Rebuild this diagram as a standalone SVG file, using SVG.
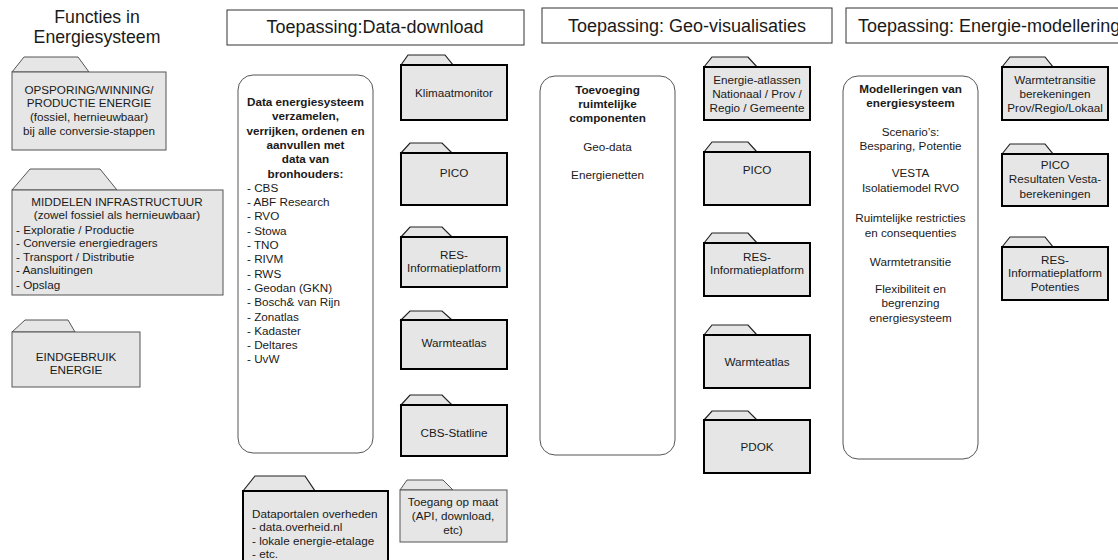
<svg xmlns="http://www.w3.org/2000/svg" width="1118" height="560" viewBox="0 0 1118 560">
<style>
text{font-family:"Liberation Sans",Arial,sans-serif;fill:#1a1a1a}
.t17{font-size:18px}
.tt{font-size:17.7px}
.t11{font-size:11.7px}
.b{font-weight:bold}
.c{text-anchor:middle}
.hdr{fill:#fff;stroke:#333;stroke-width:1}
.rbox{fill:#fff;stroke:#555;stroke-width:1}
.thin .tab,.thin .body{fill:#e6e6e6;stroke:#555;stroke-width:1}
.thick .tab{fill:#e6e6e6;stroke:#222;stroke-width:1.2}
.thick .body{fill:#e6e6e6;stroke:#000;stroke-width:2}
</style>
<rect width="1118" height="560" fill="#fff"/>
<g id="title"><text class="tt c" x="97" y="23">Functies in</text><text class="tt c" x="97" y="43">Energiesysteem</text></g>

<g id="opsporing" class="thin">
<path class="tab" d="M12,72 L24,57 L78,57 L89,72 Z"/><rect class="body" x="12" y="72" width="154" height="78"/>
<text class="t11 c" x="89" y="94">OPSPORING/WINNING/</text>
<text class="t11 c" x="89" y="107">PRODUCTIE ENERGIE</text>
<text class="t11 c" x="89" y="121">(fossiel, hernieuwbaar)</text>
<text class="t11 c" x="89" y="135">bij alle conversie-stappen</text>
</g>
<g id="middelen" class="thin">
<path class="tab" d="M12,190 L30,169 L100,169 L117,190 Z"/><rect class="body" x="12" y="190" width="211" height="105"/>
<text class="t11 c" x="117" y="206">MIDDELEN INFRASTRUCTUUR</text>
<text class="t11 c" x="117" y="219">(zowel fossiel als hernieuwbaar)</text>
<text class="t11" x="16" y="234">- Exploratie / Productie</text>
<text class="t11" x="16" y="247">- Conversie energiedragers</text>
<text class="t11" x="16" y="261">- Transport / Distributie</text>
<text class="t11" x="16" y="274">- Aansluitingen</text>
<text class="t11" x="16" y="289">- Opslag</text>
</g>
<g id="eindgebruik" class="thin">
<path class="tab" d="M12,332 L25,320 L68,320 L75,332 Z"/><rect class="body" x="12" y="332" width="128" height="55"/>
<text class="t11 c" x="76" y="361">EINDGEBRUIK</text>
<text class="t11 c" x="76" y="374">ENERGIE</text>
</g>

<g id="hdr-data"><rect class="hdr" x="227" y="10" width="297" height="35"/><text class="t17 c" x="375" y="33">Toepassing:Data-download</text></g>
<g id="data-box">
<rect class="rbox" x="238" y="75" width="135" height="378" rx="15"/>
<text class="t11 b c" x="305.5" y="106">Data energiesysteem<tspan x="305.5" dy="14.3">verzamelen,</tspan><tspan x="305.5" dy="14.3">verrijken, ordenen en</tspan><tspan x="305.5" dy="14.3">aanvullen met</tspan><tspan x="305.5" dy="14.3">data van</tspan><tspan x="305.5" dy="14.3">bronhouders:</tspan></text>
<text class="t11" x="247" y="191.8">- CBS<tspan x="247" dy="14.3">- ABF Research</tspan><tspan x="247" dy="14.3">- RVO</tspan><tspan x="247" dy="14.3">- Stowa</tspan><tspan x="247" dy="14.3">- TNO</tspan><tspan x="247" dy="14.3">- RIVM</tspan><tspan x="247" dy="14.3">- RWS</tspan><tspan x="247" dy="14.3">- Geodan (GKN)</tspan><tspan x="247" dy="14.3">- Bosch&amp; van Rijn</tspan><tspan x="247" dy="14.3">- Zonatlas</tspan><tspan x="247" dy="14.3">- Kadaster</tspan><tspan x="247" dy="14.3">- Deltares</tspan><tspan x="247" dy="14.3">- UvW</tspan></text>
</g>
<g id="klimaatmonitor" class="thick"><path class="tab" d="M401,65 L408,55 L445,55 L453,65 Z"/><rect class="body" x="401" y="65" width="106" height="55"/><text class="t11 c" x="454" y="97">Klimaatmonitor</text></g>
<g id="pico1" class="thick"><path class="tab" d="M401,153 L410,143 L442,143 L452,153 Z"/><rect class="body" x="401" y="153" width="106" height="52"/><text class="t11 c" x="454" y="177">PICO</text></g>
<g id="res1" class="thick"><path class="tab" d="M401,237 L410,227 L442,227 L452,237 Z"/><rect class="body" x="401" y="237" width="106" height="50"/><text class="t11 c" x="454" y="259">RES-</text><text class="t11 c" x="454" y="272">Informatieplatform</text></g>
<g id="warmteatlas1" class="thick"><path class="tab" d="M401,320 L410,311 L442,311 L452,320 Z"/><rect class="body" x="401" y="320" width="106" height="49"/><text class="t11 c" x="454" y="347">Warmteatlas</text></g>
<g id="cbs-statline" class="thick"><path class="tab" d="M401,405 L410,395 L442,395 L452,405 Z"/><rect class="body" x="401" y="405" width="106" height="51"/><text class="t11 c" x="454" y="437">CBS-Statline</text></g>
<g id="dataportalen" class="thick"><path class="tab" d="M243,491 L255,476 L305,476 L315,491 Z"/><rect class="body" x="243" y="491" width="145" height="80"/>
<text class="t11" x="252" y="518">Dataportalen overheden</text><text class="t11" x="252" y="531">- data.overheid.nl</text><text class="t11" x="252" y="545">- lokale energie-etalage</text><text class="t11" x="252" y="558">- etc.</text></g>
<g id="toegang" class="thin"><path class="tab" d="M400,490 L407,480 L443,480 L453,490 Z"/><rect class="body" x="400" y="490" width="107" height="52"/>
<text class="t11 c" x="453" y="506">Toegang op maat</text><text class="t11 c" x="453" y="520">(API, download,</text><text class="t11 c" x="453" y="534">etc)</text></g>

<g id="hdr-geo"><rect class="hdr" x="542" y="8" width="290" height="35"/><text class="t17 c" x="687" y="32">Toepassing: Geo-visualisaties</text></g>
<g id="geo-box">
<rect class="rbox" x="540" y="76" width="135" height="379" rx="15"/>
<text class="t11 b c" x="607.5" y="94">Toevoeging</text><text class="t11 b c" x="607.5" y="108">ruimtelijke</text><text class="t11 b c" x="607.5" y="122">componenten</text>
<text class="t11 c" x="607.5" y="151">Geo-data</text><text class="t11 c" x="607.5" y="179">Energienetten</text>
</g>
<g id="energie-atlassen" class="thick"><path class="tab" d="M704,67 L712,57 L748,57 L757,67 Z"/><rect class="body" x="704" y="67" width="106" height="53"/>
<text class="t11 c" x="757" y="84">Energie-atlassen</text><text class="t11 c" x="757" y="98">Nationaal / Prov /</text><text class="t11 c" x="757" y="112">Regio / Gemeente</text></g>
<g id="pico2" class="thick"><path class="tab" d="M704,152 L712,142 L748,142 L757,152 Z"/><rect class="body" x="704" y="152" width="106" height="53"/><text class="t11 c" x="757" y="174">PICO</text></g>
<g id="res2" class="thick"><path class="tab" d="M704,243 L712,233 L748,233 L757,243 Z"/><rect class="body" x="704" y="243" width="106" height="53"/><text class="t11 c" x="757" y="261">RES-</text><text class="t11 c" x="757" y="274">Informatieplatform</text></g>
<g id="warmteatlas2" class="thick"><path class="tab" d="M704,335 L712,325 L748,325 L757,335 Z"/><rect class="body" x="704" y="335" width="106" height="53"/><text class="t11 c" x="757" y="366">Warmteatlas</text></g>
<g id="pdok" class="thick"><path class="tab" d="M704,420 L712,411 L748,411 L757,420 Z"/><rect class="body" x="704" y="420" width="106" height="53"/><text class="t11 c" x="757" y="451">PDOK</text></g>

<g id="hdr-energie"><rect class="hdr" x="846" y="8" width="290" height="35"/><text class="t17" x="858" y="32">Toepassing: Energie-modellering</text></g>
<g id="energie-box">
<rect class="rbox" x="843" y="76" width="135" height="383" rx="15"/>
<text class="t11 b c" x="910.5" y="93">Modelleringen van</text><text class="t11 b c" x="910.5" y="107">energiesysteem</text>
<text class="t11 c" x="910.5" y="136">Scenario’s:</text><text class="t11 c" x="910.5" y="150">Besparing, Potentie</text>
<text class="t11 c" x="910.5" y="177">VESTA</text><text class="t11 c" x="910.5" y="192">Isolatiemodel RVO</text>
<text class="t11 c" x="910.5" y="222">Ruimtelijke restricties</text><text class="t11 c" x="910.5" y="237">en consequenties</text>
<text class="t11 c" x="910.5" y="266">Warmtetransitie</text>
<text class="t11 c" x="910.5" y="293">Flexibiliteit en</text><text class="t11 c" x="910.5" y="307">begrenzing</text><text class="t11 c" x="910.5" y="322">energiesysteem</text>
</g>
<g id="warmtetransitie" class="thick"><path class="tab" d="M1002,67 L1010,57 L1045,57 L1053,67 Z"/><rect class="body" x="1002" y="67" width="106" height="53"/>
<text class="t11 c" x="1055" y="84">Warmtetransitie</text><text class="t11 c" x="1055" y="98">berekeningen</text><text class="t11 c" x="1055" y="112">Prov/Regio/Lokaal</text></g>
<g id="pico3" class="thick"><path class="tab" d="M1002,154 L1010,144 L1045,144 L1053,154 Z"/><rect class="body" x="1002" y="154" width="106" height="52"/>
<text class="t11 c" x="1055" y="169">PICO</text><text class="t11 c" x="1055" y="183">Resultaten Vesta-</text><text class="t11 c" x="1055" y="198">berekeningen</text></g>
<g id="res3" class="thick"><path class="tab" d="M1002,247 L1010,237 L1045,237 L1053,247 Z"/><rect class="body" x="1002" y="247" width="106" height="53"/>
<text class="t11 c" x="1055" y="264">RES-</text><text class="t11 c" x="1055" y="277">Informatieplatform</text><text class="t11 c" x="1055" y="291">Potenties</text></g>
<g id="connectors"/>
</svg>
